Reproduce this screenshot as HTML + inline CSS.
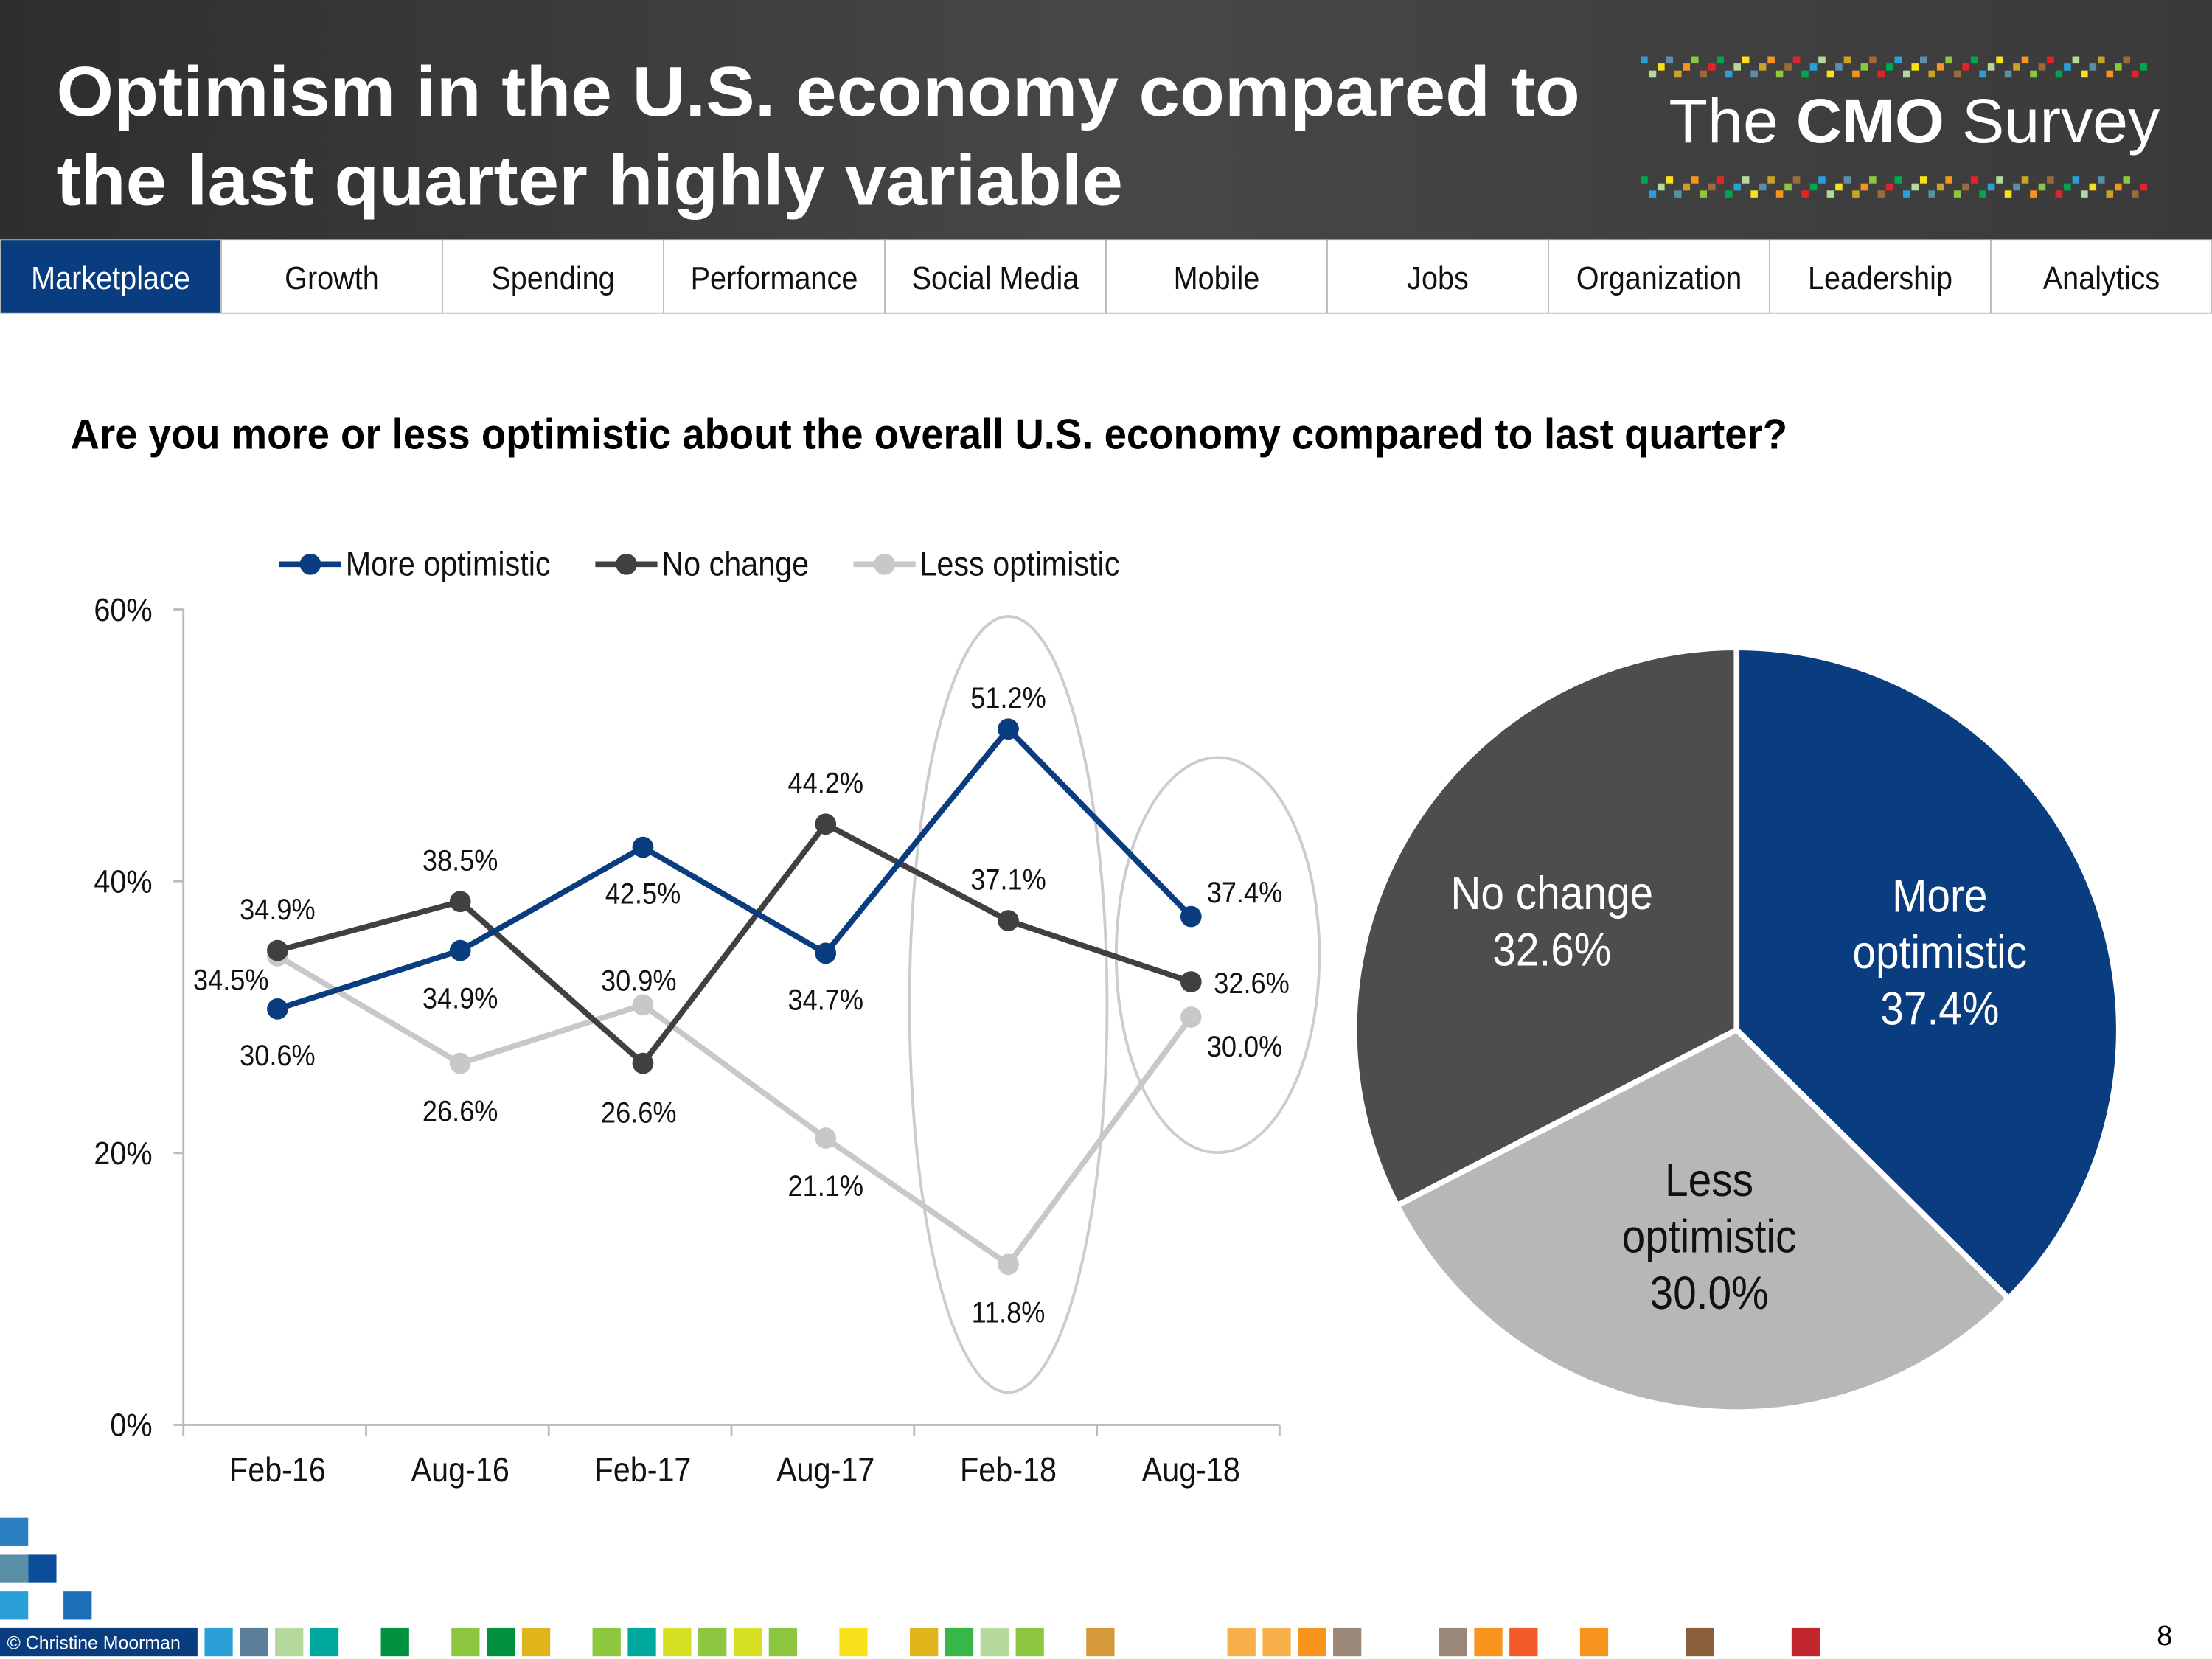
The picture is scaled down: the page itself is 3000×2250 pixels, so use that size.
<!DOCTYPE html>
<html><head><meta charset="utf-8"><style>
html,body{margin:0;padding:0;background:#fff;}
svg{display:block;font-family:"Liberation Sans",Arial,sans-serif;}
</style></head><body>
<svg id="s" width="3000" height="2250" viewBox="0 0 1568 1176" xmlns="http://www.w3.org/2000/svg">
<defs><linearGradient id="hg" x1="0" y1="0" x2="1" y2="0"><stop offset="0" stop-color="#2e2e2e"/><stop offset="0.5" stop-color="#474747"/><stop offset="1" stop-color="#3a3a3a"/></linearGradient></defs>
<rect x="0" y="0" width="1568" height="170" fill="url(#hg)"/>
<text x="40" y="82" font-size="50" font-weight="bold" fill="#fff" textLength="1080" lengthAdjust="spacingAndGlyphs">Optimism in the U.S. economy compared to</text>
<text x="40" y="145" font-size="50" font-weight="bold" fill="#fff" textLength="756" lengthAdjust="spacingAndGlyphs">the last quarter highly variable</text>
<g id="logo">
<text x="1183" y="101" font-size="44" fill="#fff" textLength="348" lengthAdjust="spacingAndGlyphs">The <tspan font-weight="bold">CMO</tspan> Survey</text>
</g>
<g id="nav"></g>
<text x="50" y="318" font-size="30" font-weight="bold" fill="#000" textLength="1217" lengthAdjust="spacingAndGlyphs">Are you more or less optimistic about the overall U.S. economy compared to last quarter?</text>
<g id="chart"></g>
<g id="pie"></g>
<g id="foot"></g>
<text x="1540" y="1166" font-size="20" text-anchor="end" fill="#000">8</text>
</svg>
<script>
const categories=["Feb-16","Aug-16","Feb-17","Aug-17","Feb-18","Aug-18"];
const moreOptimistic=[30.6,34.9,42.5,34.7,51.2,37.4];
const noChange=[34.9,38.5,26.6,44.2,37.1,32.6];
const lessOptimistic=[34.5,26.6,30.9,21.1,11.8,30.0];
const yTicks=[0,20,40,60];
const pieLabels=["More optimistic","Less optimistic","No change"];
const pieValues=[37.4,30.0,32.6];
const navTabs=["Marketplace","Growth","Spending","Performance","Social Media","Mobile","Jobs","Organization","Leadership","Analytics"];

const NS="http://www.w3.org/2000/svg";
function mk(p,t,a,txt){const e=document.createElementNS(NS,t);for(const k in a)e.setAttribute(k,a[k]);if(txt!==undefined)e.textContent=txt;p.appendChild(e);return e;}
const SX=0.9;
function ntext(p,x,y,size,anchor,fill,txt){
 return mk(p,'text',{x:x/SX,y:y,'font-size':size,'text-anchor':anchor,fill:fill,transform:`scale(${SX},1)`},txt);
}

// nav
const nav=document.getElementById('nav');
const tw=1568/navTabs.length;
navTabs.forEach((t,i)=>{
 const r=mk(nav,'rect',{x:i*tw,y:170,width:tw,height:52,fill:i==0?'#0a3d7f':'#fff',stroke:'#bbb','stroke-width':1});
 
 
 const tx=ntext(nav,i*tw+tw/2,205,23,'middle',i==0?'#fff':'#111',t);
 
 
});

// logo pixels
const logo=document.getElementById('logo');
const cols=['#2a9fd8','#5b8fa8','#8dc63f','#00a651','#f7e11b','#f7941d','#e2242a','#b5d99c','#c9a227','#9c6b3a'];
for(let row=0;row<2;row++){for(let i=0;i<60;i++){const x=1163+i*6;const y=row?125:40;const c=cols[(i*7+row*3)%cols.length];
 const r=mk(logo,'rect',{x:x,y:y+((i*5)%3)*5,width:5,height:5,fill:c});
 }}

// line chart
const ch=document.getElementById('chart');
const x0=130,x1=907,yB=1010,yT=432;
const step=(x1-x0)/categories.length;
const X=i=>x0+step*(i+0.5)+2;
const Y=v=>yB-(v/60)*(yB-yT);
let ax=mk(ch,'line',{x1:x0,y1:yT,x2:x0,y2:yB,stroke:'#bbb','stroke-width':1.5});

ax=mk(ch,'line',{x1:x0,y1:yB,x2:x1,y2:yB,stroke:'#bbb','stroke-width':1.5});

yTicks.forEach(t=>{
 const l=mk(ch,'line',{x1:x0-7,y1:Y(t),x2:x0,y2:Y(t),stroke:'#bbb','stroke-width':1.5});
 
 const tx=ntext(ch,108,Y(t)+8,23,'end','#111',t+'%');
 
});
for(let i=0;i<=categories.length;i++){
 const l=mk(ch,'line',{x1:x0+step*i,y1:yB,x2:x0+step*i,y2:yB+8,stroke:'#bbb','stroke-width':1.5});
 
}
categories.forEach((c,i)=>{
 const tx=ntext(ch,X(i),1050,24,'middle','#111',c);
 
});
let el=mk(ch,'ellipse',{cx:X(4),cy:712,rx:70,ry:275,fill:'none',stroke:'#ccc','stroke-width':2});

el=mk(ch,'ellipse',{cx:X(5)+19,cy:677,rx:72,ry:140,fill:'none',stroke:'#ccc','stroke-width':2});


const series=[
 {name:'more-optimistic',label:'More optimistic',vals:moreOptimistic,color:'#0a3d7f',off:[[0,32],[0,33],[0,32],[0,32],[0,-23],[38,-18]]},
 {name:'no-change',label:'No change',vals:noChange,color:'#404040',off:[[0,-30],[0,-30],[-3,34],[0,-30],[0,-30],[43,0]]},
 {name:'less-optimistic',label:'Less optimistic',vals:lessOptimistic,color:'#c8c8c8',off:[[-33,16],[0,33],[-3,-18],[0,33],[0,33],[38,20]]}
];
series.slice().reverse().forEach(s=>{
 const p=mk(ch,'polyline',{points:s.vals.map((v,i)=>X(i)+','+Y(v)).join(' '),fill:'none',stroke:s.color,'stroke-width':4});
 
 s.vals.forEach((v,i)=>{
  const c=mk(ch,'circle',{cx:X(i),cy:Y(v),r:7.5,fill:s.color});
  
 });
});
series.forEach(s=>{
 s.vals.forEach((v,i)=>{
  const t=ntext(ch,X(i)+s.off[i][0],Y(v)+s.off[i][1]+8,21,'middle','#111',v.toFixed(1)+'%');
  
 });
});
const lx=[198,422,605];
series.forEach((s,i)=>{
 const l=mk(ch,'line',{x1:lx[i],y1:400,x2:lx[i]+44,y2:400,stroke:s.color,'stroke-width':4});
 
 const c=mk(ch,'circle',{cx:lx[i]+22,cy:400,r:7.5,fill:s.color});
 
 const t=ntext(ch,lx[i]+47,408,24,'start','#111',s.label);
 
});

// pie
const pie=document.getElementById('pie');
const cx=1231,cy=730,R=271;
const pcol=['#0a3d7f','#b7b7b7','#4d4d4d'];
const tcol=['#fff','#111','#fff'];
const plab=[["More","optimistic"],["Less","optimistic"],["No change"]];
const ldx=[-6,5,8], ldy=[12,-10,12];
const total=pieValues.reduce((a,b)=>a+b,0);
let a0=-Math.PI/2;
pieValues.forEach((v,i)=>{
 const a1=a0+v/total*2*Math.PI;
 const large=(a1-a0)>Math.PI?1:0;
 const p=mk(pie,'path',{d:`M${cx},${cy} L${cx+R*Math.cos(a0)},${cy+R*Math.sin(a0)} A${R},${R} 0 ${large} 1 ${cx+R*Math.cos(a1)},${cy+R*Math.sin(a1)} Z`,fill:pcol[i],stroke:'#fff','stroke-width':4});
 
 
 const am=(a0+a1)/2, rr=R*0.6;
 const lines=plab[i].concat([v.toFixed(1)+'%']);
 const lx2=cx+rr*Math.cos(am)+ldx[i], ly=cy+rr*Math.sin(am)-(lines.length-1)*20-5+ldy[i];
 lines.forEach((ln,k)=>{
  const t=ntext(pie,lx2,ly+k*40+12,33,'middle',tcol[i],ln);
  
 });
 a0=a1;
});

// footer
const ft=document.getElementById('foot');
[[0,1076,'#2a7fc0'],[0,1102,'#5b8fa8'],[20,1102,'#0a4d9a'],[0,1128,'#2a9fd8'],[45,1128,'#1a6fb8']].forEach(q=>{
 const r=mk(ft,'rect',{x:q[0],y:q[1],width:20,height:20,fill:q[2]});
 
});
let fb=mk(ft,'rect',{x:0,y:1154,width:140,height:20,fill:'#0a3d7f'});

fb=mk(ft,'text',{x:5,y:1169,'font-size':13,fill:'#fff'},'© Christine Moorman');

const fsq=[[145,'#2a9fd8'],[170,'#5b7f98'],[195,'#b5d99c'],[220,'#00a99d'],[270,'#00923f'],[320,'#8dc63f'],[345,'#00923f'],[370,'#e0b41b'],[420,'#8dc63f'],[445,'#00a99d'],[470,'#d7df23'],[495,'#8dc63f'],[520,'#d7df23'],[545,'#8dc63f'],[595,'#f7e11b'],[645,'#e0b41b'],[670,'#39b54a'],[695,'#b5d99c'],[720,'#8dc63f'],[770,'#d49a3a'],[870,'#f7b04a'],[895,'#f7b04a'],[920,'#f7941d'],[945,'#9c8878'],[1020,'#9c8878'],[1045,'#f7941d'],[1070,'#f15a29'],[1120,'#f7941d'],[1195,'#8b5e3c'],[1270,'#c1272d']];
fsq.forEach(q=>{
 const r=mk(ft,'rect',{x:q[0],y:1154,width:20,height:20,fill:q[1]});
 
});
</script>
</body></html>
